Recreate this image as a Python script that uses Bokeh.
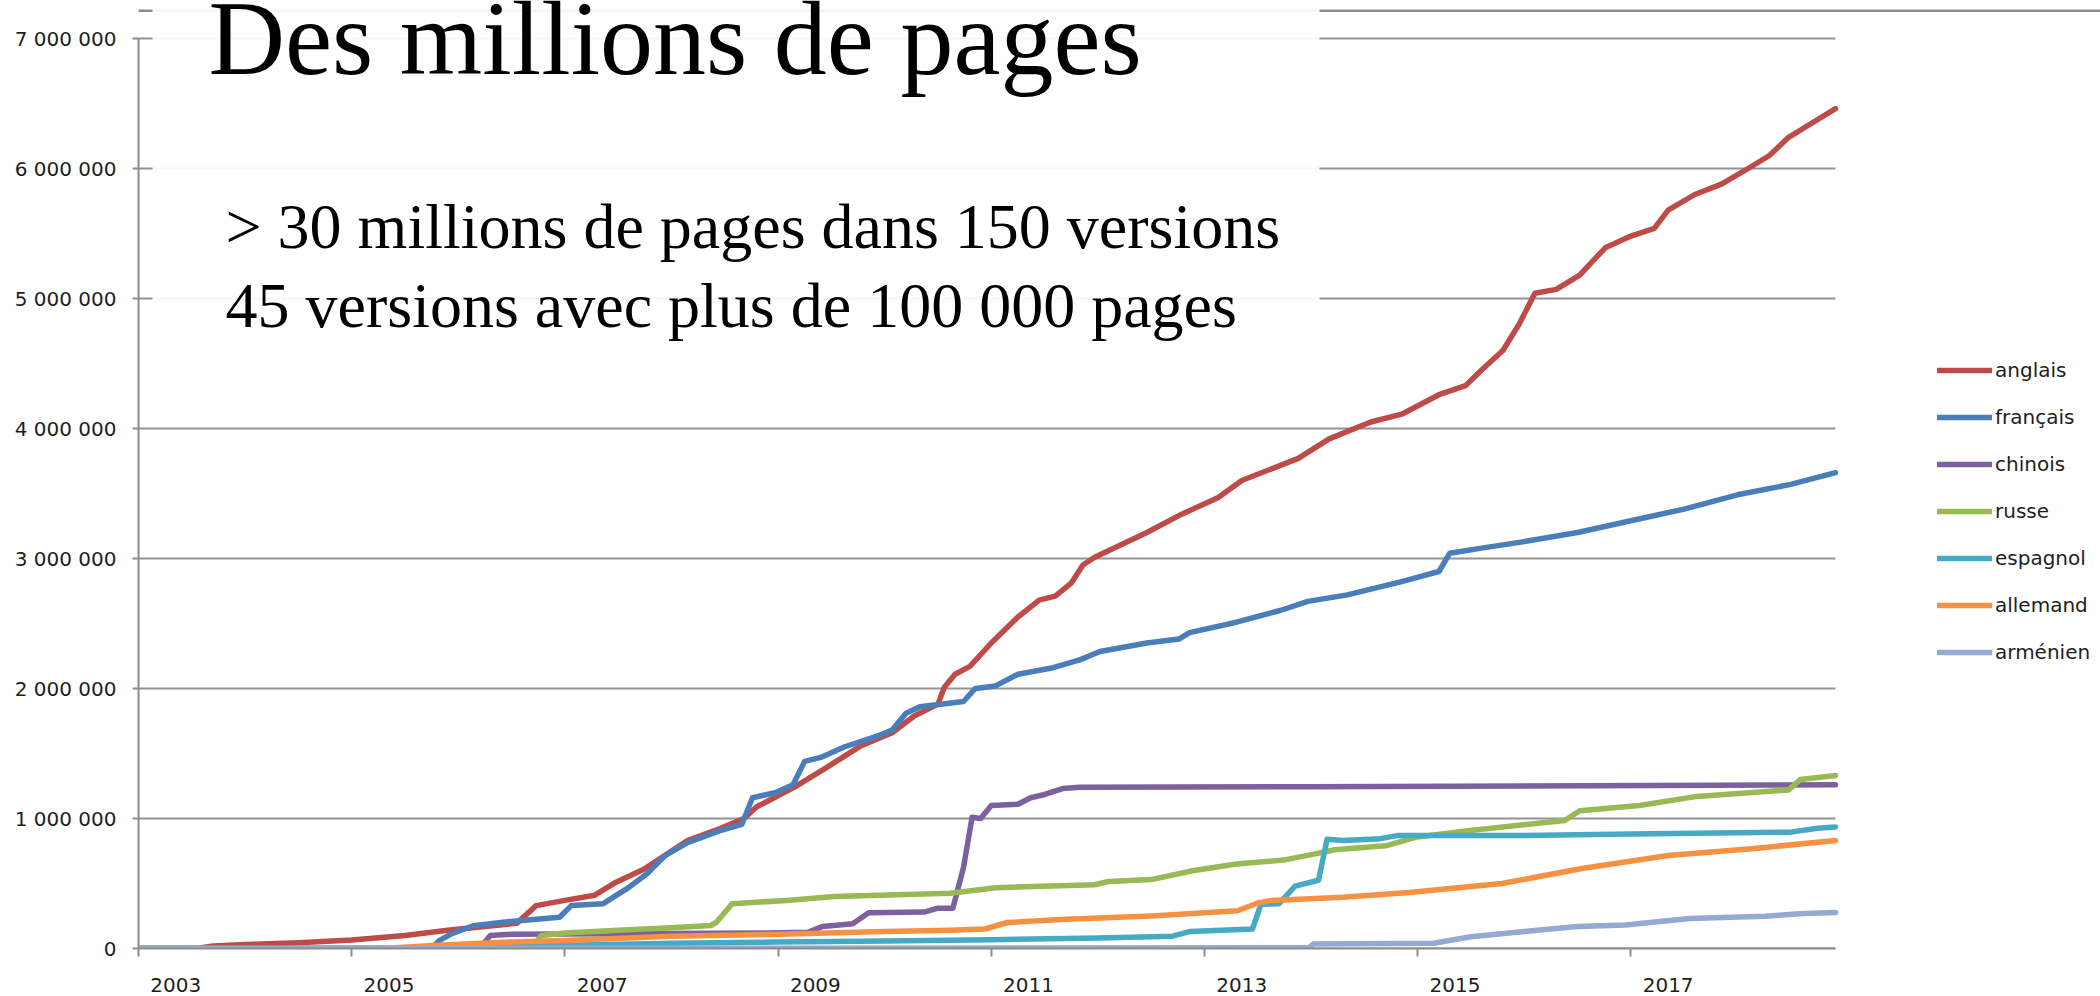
from bokeh.plotting import figure
from bokeh.models import (Range1d, FixedTicker, CustomJSTickFormatter, Legend, LegendItem,
                          BoxAnnotation, Label)
from bokeh.embed import file_html
from bokeh.resources import INLINE

# ---------------- data (pages) ----------------
tick_years = [2003, 2005, 2007, 2009, 2011, 2013, 2015, 2017]
y_ticks = [0, 1000000, 2000000, 3000000, 4000000, 5000000, 6000000, 7000000]
x_start, x_end = 2003.0, 2018.92

series_names = ["anglais", "français", "chinois", "russe", "espagnol", "allemand", "arménien"]
series_colors = ["#BE4B48", "#4A7EBB", "#7D60A0", "#98B954", "#46AAC5", "#F59140", "#94AAD2"]

anglais_x = [2003.0, 2003.55, 2003.7, 2004.0, 2004.5, 2005.0, 2005.5, 2005.9, 2006.55, 2006.73,
             2007.0, 2007.28, 2007.48, 2007.74, 2008.15, 2008.45, 2008.68, 2008.8, 2009.15, 2009.45,
             2009.78, 2010.07, 2010.28, 2010.5, 2010.56, 2010.66, 2010.8, 2011.0, 2011.25, 2011.45,
             2011.6, 2011.75, 2011.86, 2011.97, 2012.46, 2012.76, 2013.13, 2013.35, 2013.88, 2014.17,
             2014.56, 2014.85, 2015.2, 2015.45, 2015.6, 2015.8, 2015.95, 2016.1, 2016.3, 2016.52,
             2016.76, 2017.0, 2017.22, 2017.35, 2017.6, 2017.85, 2018.1, 2018.3, 2018.48, 2018.7,
             2018.92]
anglais_y = [0, 0, 20000, 30000, 45000, 65000, 100000, 140000, 195000, 330000,
             370000, 410000, 510000, 610000, 830000, 920000, 1000000, 1090000, 1240000, 1390000,
             1560000, 1660000, 1790000, 1880000, 2010000, 2110000, 2170000, 2350000, 2550000, 2680000,
             2710000, 2810000, 2950000, 3010000, 3200000, 3330000, 3470000, 3600000, 3770000, 3920000,
             4050000, 4110000, 4260000, 4330000, 4450000, 4600000, 4800000, 5040000, 5070000, 5180000,
             5390000, 5480000, 5540000, 5680000, 5800000, 5880000, 6000000, 6100000, 6240000, 6350000,
             6460000]

francais_x = [2003.0, 2005.75, 2005.82, 2005.94, 2006.14, 2006.4, 2006.65, 2006.95, 2007.06, 2007.36,
              2007.6, 2007.77, 2007.94, 2008.15, 2008.45, 2008.66, 2008.76, 2008.98, 2009.14, 2009.25,
              2009.4, 2009.62, 2009.95, 2010.07, 2010.2, 2010.33, 2010.74, 2010.85, 2011.04, 2011.25,
              2011.58, 2011.83, 2012.02, 2012.46, 2012.76, 2012.86, 2013.3, 2013.71, 2013.97, 2014.34,
              2014.84, 2015.2, 2015.3, 2015.6, 2016.0, 2016.5, 2017.0, 2017.5, 2018.0, 2018.5, 2018.92]
francais_y = [0, 0, 60000, 115000, 175000, 200000, 220000, 240000, 330000, 345000,
              470000, 575000, 715000, 815000, 905000, 955000, 1160000, 1200000, 1260000, 1440000,
              1470000, 1550000, 1640000, 1680000, 1810000, 1860000, 1900000, 2000000, 2020000, 2110000,
              2160000, 2220000, 2285000, 2350000, 2380000, 2430000, 2510000, 2600000, 2670000, 2720000,
              2820000, 2900000, 3040000, 3080000, 3130000, 3200000, 3290000, 3380000, 3490000, 3570000,
              3660000]

chinois_x = [2003.0, 2006.2, 2006.3, 2006.5, 2008.9, 2009.28, 2009.42, 2009.7, 2009.85, 2010.37,
             2010.5, 2010.64, 2010.74, 2010.82, 2010.9, 2011.0, 2011.25, 2011.37, 2011.5, 2011.67,
             2011.83, 2014.0, 2016.0, 2018.92]
chinois_y = [0, 0, 100000, 110000, 120000, 125000, 170000, 190000, 275000, 280000,
             310000, 310000, 625000, 1010000, 1000000, 1100000, 1110000, 1160000, 1185000, 1230000,
             1240000, 1245000, 1250000, 1260000]

russe_x = [2003.0, 2006.68, 2006.78, 2007.0, 2007.5, 2008.0, 2008.37, 2008.42, 2008.57, 2009.08,
           2009.53, 2010.62, 2011.04, 2011.97, 2012.1, 2012.5, 2012.9, 2013.3, 2013.74, 2014.05,
           2014.22, 2014.7, 2014.98, 2015.47, 2016.38, 2016.52, 2017.08, 2017.62, 2018.48, 2018.59,
           2018.92]
russe_y = [0, 0, 100000, 120000, 140000, 160000, 177000, 200000, 345000, 370000,
           400000, 425000, 468000, 490000, 515000, 530000, 600000, 650000, 680000, 730000,
           760000, 790000, 855000, 905000, 985000, 1060000, 1100000, 1170000, 1220000, 1300000,
           1330000]

espagnol_x = [2003.0, 2005.5, 2006.2, 2007.0, 2008.0, 2009.0, 2010.0, 2011.0, 2012.0, 2012.7,
              2012.86, 2013.45, 2013.53, 2013.7, 2013.85, 2014.07, 2014.15, 2014.3, 2014.65, 2014.82,
              2016.0, 2017.0, 2018.5, 2018.75, 2018.92]
espagnol_y = [0, 0, 5000, 25000, 40000, 50000, 58000, 68000, 80000, 95000,
              130000, 150000, 340000, 345000, 480000, 525000, 840000, 830000, 845000, 870000,
              870000, 880000, 895000, 925000, 935000]

allemand_x = [2003.0, 2005.3, 2005.8, 2006.5, 2007.0, 2008.0, 2009.0, 2010.0, 2010.62, 2010.94,
              2011.15, 2011.7, 2012.5, 2013.31, 2013.5, 2013.63, 2014.3, 2014.92, 2015.79, 2016.54,
              2017.35, 2018.16, 2018.92]
allemand_y = [0, 0, 25000, 50000, 62000, 95000, 110000, 130000, 140000, 150000,
              200000, 225000, 250000, 290000, 350000, 370000, 395000, 430000, 500000, 615000,
              715000, 770000, 830000]

armenien_x = [2003.0, 2013.98, 2014.02, 2015.15, 2015.5, 2016.0, 2016.5, 2016.95, 2017.55, 2018.26,
              2018.62, 2018.92]
armenien_y = [0, 5000, 35000, 40000, 90000, 130000, 170000, 180000, 230000, 248000,
              270000, 277000]

title_text = "Des millions de pages"
subtitle_lines = ["> 30 millions de pages dans 150 versions",
                  "45 versions avec plus de 100 000 pages"]

# ---------------- figure ----------------
W, H = 2100, 996
FRAME_L, FRAME_B = 138, 948            # frame left edge / bottom edge (canvas px)
PX_PER_YEAR = (1835 - FRAME_L) / (x_end - x_start)
X_RANGE_END = x_start + (W - FRAME_L) / PX_PER_YEAR
Y_RANGE_END = 7000000 * FRAME_B / 910.0

p = figure(width=W, height=H, output_backend="svg", toolbar_location=None, title=None,
           x_range=Range1d(x_start, X_RANGE_END), y_range=Range1d(0, Y_RANGE_END),
           min_border_left=FRAME_L, min_border_right=0, min_border_top=0,
           min_border_bottom=H - FRAME_B)
p.outline_line_color = None
p.background_fill_color = "white"
p.border_fill_color = "white"

AXIS_GRAY = "#8c8c8c"

# y axis
p.yaxis.ticker = FixedTicker(ticks=y_ticks)
p.yaxis.formatter = CustomJSTickFormatter(
    code=r"return Math.round(tick).toString().replace(/\B(?=(\d{3})+(?!\d))/g, ' ');")
p.yaxis.bounds = (0, 7000000)
p.yaxis.axis_line_color = AXIS_GRAY
p.yaxis.axis_line_width = 2
p.yaxis.major_tick_out = 6
p.yaxis.major_tick_in = 0
p.yaxis.major_tick_line_color = AXIS_GRAY
p.yaxis.major_tick_line_width = 2
p.yaxis.minor_tick_line_color = None
p.yaxis.major_label_text_font = "DejaVu Sans"
p.yaxis.major_label_text_font_size = "20px"
p.yaxis.major_label_text_color = "#1e1e1e"
p.yaxis.major_label_standoff = 16

# x axis: tick marks at years (minor), labels shifted right (major)
p.xaxis.ticker = FixedTicker(ticks=[y + 0.35 for y in tick_years], minor_ticks=tick_years)
p.xaxis.formatter = CustomJSTickFormatter(code="return Math.floor(tick).toString();")
p.xaxis.bounds = (x_start, x_end)
p.xaxis.axis_line_color = AXIS_GRAY
p.xaxis.axis_line_width = 2
p.xaxis.major_tick_out = 0
p.xaxis.major_tick_in = 0
p.xaxis.major_tick_line_color = None
p.xaxis.minor_tick_out = 8
p.xaxis.minor_tick_in = 0
p.xaxis.minor_tick_line_color = AXIS_GRAY
p.xaxis.minor_tick_line_width = 2
p.xaxis.major_label_text_font = "DejaVu Sans"
p.xaxis.major_label_text_font_size = "20px"
p.xaxis.major_label_text_color = "#1e1e1e"
p.xaxis.major_label_standoff = 21

p.xgrid.grid_line_color = None
p.ygrid.grid_line_color = None

# horizontal gridlines limited to the data span
p.segment(x0=[x_start] * len(y_ticks), y0=y_ticks, x1=[x_end] * len(y_ticks), y1=y_ticks,
          line_color="#939393", line_width=2, level="underlay")

# lines
all_x = [anglais_x, francais_x, chinois_x, russe_x, espagnol_x, allemand_x, armenien_x]
all_y = [anglais_y, francais_y, chinois_y, russe_y, espagnol_y, allemand_y, armenien_y]
items = []
for name, xs, ys, col in zip(series_names, all_x, all_y, series_colors):
    r = p.line(xs, ys, line_color=col, line_width=5.5, line_join="round", line_cap="round")
    items.append(LegendItem(label=name, renderers=[r]))

legend = Legend(items=items, location=(1937 - FRAME_L, FRAME_B - 664), padding=0, margin=0,
                spacing=23, glyph_width=55, glyph_height=24, label_height=24, label_standoff=3,
                label_text_font="DejaVu Sans", label_text_font_size="20px",
                label_text_color="#1e1e1e", border_line_color=None,
                background_fill_alpha=0)
p.add_layout(legend)

# slide header line and title box
p.add_layout(BoxAnnotation(left=-FRAME_L, right=W - FRAME_L, bottom=FRAME_B - 11.5, top=FRAME_B - 9,
                           left_units="screen", right_units="screen",
                           bottom_units="screen", top_units="screen",
                           fill_color="#8c8c8c", fill_alpha=1.0, line_color=None))
p.add_layout(BoxAnnotation(left=152 - FRAME_L, right=1319 - FRAME_L, bottom=FRAME_B - 360,
                           top=FRAME_B + 20,
                           left_units="screen", right_units="screen",
                           bottom_units="screen", top_units="screen",
                           fill_color="white", fill_alpha=0.92, line_color=None))

TITLE_SIZE = 106
SUB_SIZE = 64
p.add_layout(Label(x=208 - FRAME_L, y=FRAME_B - 75 + 0.345 * TITLE_SIZE,
                   x_units="screen", y_units="screen", text=title_text,
                   text_font="Liberation Serif", text_font_size=f"{TITLE_SIZE}px",
                   text_color="black", text_baseline="alphabetic", text_align="left"))
p.add_layout(Label(x=225 - FRAME_L, y=FRAME_B - 248 + 0.345 * SUB_SIZE,
                   x_units="screen", y_units="screen", text=subtitle_lines[0],
                   text_font="Liberation Serif", text_font_size=f"{SUB_SIZE}px",
                   text_color="black", text_baseline="alphabetic", text_align="left"))
p.add_layout(Label(x=225 - FRAME_L, y=FRAME_B - 327 + 0.345 * SUB_SIZE,
                   x_units="screen", y_units="screen", text=subtitle_lines[1],
                   text_font="Liberation Serif", text_font_size=f"{SUB_SIZE}px",
                   text_color="black", text_baseline="alphabetic", text_align="left"))

open("out.html", "w").write(file_html(p, INLINE))
